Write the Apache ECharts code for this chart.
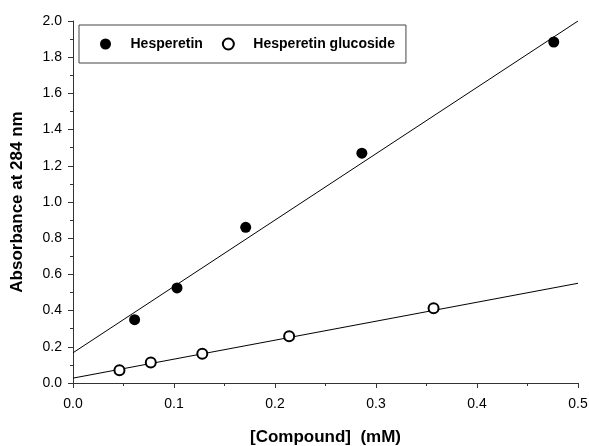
<!DOCTYPE html>
<html>
<head>
<meta charset="utf-8">
<script src="https://cdn.jsdelivr.net/npm/echarts@6/dist/echarts.min.js"></script>
<style>
  html, body { margin: 0; padding: 0; background: #fff; }
  #chart { width: 589px; height: 446px; }
</style>
</head>
<body>
<div id="chart"></div>
<script>
const chartDom = document.getElementById('chart');
const myChart = echarts.init(chartDom);

// measured points (x = mM, y = absorbance)
const hesperetinX = [0.061, 0.103, 0.171, 0.286, 0.476];
const hesperetinY = [0.35, 0.525, 0.86, 1.27, 1.884];
const glucosideX = [0.046, 0.077, 0.128, 0.214, 0.357];
const glucosideY = [0.07, 0.113, 0.162, 0.258, 0.413];

// fitted lines, end points
const hesperetinFitX = [0, 0.5];
const hesperetinFitY = [0.167, 2.0];
const glucosideFitX = [0, 0.5];
const glucosideFitY = [0.027, 0.551];

const seriesNames = ['Hesperetin', 'Hesperetin glucoside'];

function pairs(xs, ys) {
    return xs.map((x, i) => [x, ys[i]]);
}

const font = 'Liberation Sans, Arial, sans-serif';

const option = {
    animation: false,
    backgroundColor: '#fff',
    grid: {
        left: 73,
        right: 11,
        top: 21,
        bottom: 63,
        containLabel: false,
        outerBoundsMode: 'none'
    },
    legend: {
        data: [
            { name: seriesNames[0], itemStyle: { color: '#000', opacity: 1 } },
            { name: seriesNames[1], itemStyle: { color: '#fff', borderColor: '#000', borderWidth: 2, opacity: 1 } }
        ],
        left: 79,
        top: 25,
        orient: 'horizontal',
        itemWidth: 40,
        itemHeight: 11,
        itemGap: 19,
        padding: [12, 11, 12, 21],
        borderColor: '#444',
        borderWidth: 1,
        backgroundColor: '#fff',
        selectedMode: false,
        textStyle: {
            fontFamily: font,
            fontWeight: 'bold',
            fontSize: 14,
            color: '#000'
        }
    },
    xAxis: {
        type: 'value',
        min: 0,
        max: 0.5,
        interval: 0.1,
        name: '[Compound]  (mM)',
        nameLocation: 'middle',
        nameGap: 46,
        nameTextStyle: {
            fontFamily: font,
            fontWeight: 'bold',
            fontSize: 17,
            color: '#000'
        },
        axisLine: { show: true, lineStyle: { color: '#333', width: 1 } },
        axisTick: { show: true, inside: false, length: 5, lineStyle: { color: '#333' } },
        minorTick: { show: true, splitNumber: 2, length: 3, lineStyle: { color: '#333' } },
        splitLine: { show: false },
        axisLabel: {
            margin: 14,
            fontFamily: font,
            fontSize: 14,
            color: '#000',
            formatter: v => v.toFixed(1)
        }
    },
    yAxis: {
        type: 'value',
        min: 0,
        max: 2.0,
        interval: 0.2,
        name: 'Absorbance at 284 nm',
        nameLocation: 'middle',
        nameGap: 47,
        nameTextStyle: {
            fontFamily: font,
            fontWeight: 'bold',
            fontSize: 17,
            color: '#000'
        },
        axisLine: { show: true, lineStyle: { color: '#333', width: 1 } },
        axisTick: { show: true, inside: false, length: 5, lineStyle: { color: '#333' } },
        minorTick: { show: true, splitNumber: 2, length: 3, lineStyle: { color: '#333' } },
        splitLine: { show: false },
        axisLabel: {
            margin: 11,
            fontFamily: font,
            fontSize: 14,
            color: '#000',
            formatter: v => v.toFixed(1)
        }
    },
    series: [
        {
            type: 'line',
            data: pairs(hesperetinFitX, hesperetinFitY),
            symbol: 'none',
            lineStyle: { color: '#000', width: 1 },
            silent: true,
            z: 1
        },
        {
            type: 'line',
            data: pairs(glucosideFitX, glucosideFitY),
            symbol: 'none',
            lineStyle: { color: '#000', width: 1 },
            silent: true,
            z: 1
        },
        {
            name: seriesNames[0],
            type: 'scatter',
            data: pairs(hesperetinX, hesperetinY),
            symbol: 'circle',
            symbolSize: 11,
            itemStyle: { color: '#000', opacity: 1 },
            emphasis: { disabled: true },
            z: 3
        },
        {
            name: seriesNames[1],
            type: 'scatter',
            data: pairs(glucosideX, glucosideY),
            symbol: 'circle',
            symbolSize: 10,
            itemStyle: { color: '#fff', borderColor: '#000', borderWidth: 2, opacity: 1 },
            emphasis: { disabled: true },
            z: 3
        }
    ]
};

myChart.setOption(option);
</script>
</body>
</html>
